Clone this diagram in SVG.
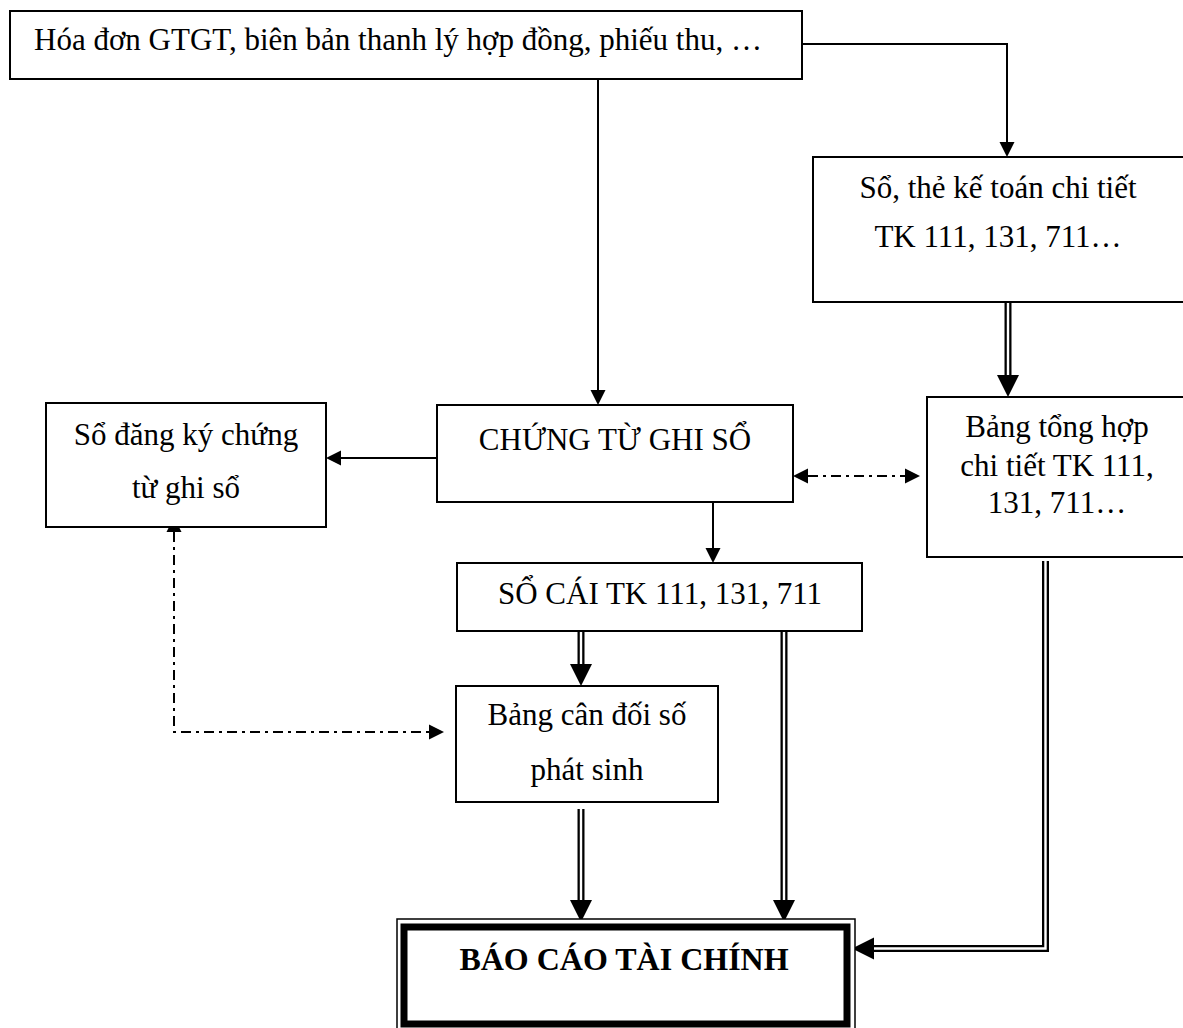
<svg xmlns="http://www.w3.org/2000/svg" width="1183" height="1028" viewBox="0 0 1183 1028">
  <style>
    .box { fill: #fff; stroke: #000; stroke-width: 2; }
    .lbl { font-family: "Liberation Serif", "Times New Roman", serif; font-size: 31px; fill: #000; text-anchor: middle; }
    .bold { font-weight: bold; font-size: 32px; }
    .ln { fill: none; stroke: #000; stroke-width: 2; }
    .dd { fill: none; stroke: #000; stroke-width: 2; stroke-dasharray: 10 5 3 5; }
    .dbl-out { fill: none; stroke: #000; stroke-width: 7; stroke-linejoin: miter; }
    .dbl-in { fill: none; stroke: #fff; stroke-width: 2.4; stroke-linejoin: miter; }
  </style>
  <defs>
    <!-- path ends at the arrow base; the head extends forward from there -->
    <marker id="arr" markerUnits="userSpaceOnUse" markerWidth="16" markerHeight="16" refX="0" refY="7.5" orient="auto-start-reverse" overflow="visible">
      <path d="M0,0 L15,7.5 L0,15 z" fill="#000"/>
    </marker>
    <marker id="arrBig" markerUnits="userSpaceOnUse" markerWidth="23" markerHeight="23" refX="0" refY="11" orient="auto" overflow="visible">
      <path d="M0,0 L22,11 L0,22 z" fill="#000"/>
    </marker>
  </defs>

  <rect width="1183" height="1028" fill="#fff"/>

  <g id="connectors">
    <!-- source documents to journal voucher -->
    <path class="ln" d="M598,79 V390" marker-end="url(#arr)"/>
    <!-- source documents to detail ledgers -->
    <path class="ln" d="M802,44 H1007 V142" marker-end="url(#arr)"/>
    <!-- journal voucher to voucher register -->
    <path class="ln" d="M437,458 H341" marker-end="url(#arr)"/>
    <!-- voucher vs detail summary cross-check -->
    <path class="dd" d="M808,476 H905" marker-start="url(#arr)" marker-end="url(#arr)"/>
    <!-- journal voucher to general ledger -->
    <path class="ln" d="M713,503 V548" marker-end="url(#arr)"/>
    <!-- register vs trial balance cross-check -->
    <path class="dd" d="M174,532 V732 H429" marker-start="url(#arr)" marker-end="url(#arr)"/>

    <!-- double-line flows -->
    <path class="dbl-out" d="M1008,303 V375" marker-end="url(#arrBig)"/>
    <path class="dbl-in" d="M1008,303 V375"/>

    <path class="dbl-out" d="M581,632 V664" marker-end="url(#arrBig)"/>
    <path class="dbl-in" d="M581,632 V664"/>

    <path class="dbl-out" d="M784,632 V900" marker-end="url(#arrBig)"/>
    <path class="dbl-in" d="M784,632 V900"/>

    <path class="dbl-out" d="M581,809 V900" marker-end="url(#arrBig)"/>
    <path class="dbl-in" d="M581,809 V900"/>

    <path class="dbl-out" d="M1045.5,561 V948.5 H874" marker-end="url(#arrBig)"/>
    <path class="dbl-in" d="M1045.5,561 V948.5 H874"/>
  </g>

  <g id="n-source">
    <rect class="box" x="10" y="11" width="792" height="68"/>
    <text class="lbl" x="398" y="50">Hóa đơn GTGT, biên bản thanh lý hợp đồng, phiếu thu, …</text>
  </g>

  <g id="n-detail-ledger">
    <rect class="box" x="813" y="157" width="375" height="145"/>
    <text class="lbl" x="998" y="198">Sổ, thẻ kế toán chi tiết</text>
    <text class="lbl" x="998" y="247">TK 111, 131, 711…</text>
  </g>

  <g id="n-register">
    <rect class="box" x="46" y="403" width="280" height="124"/>
    <text class="lbl" x="186" y="445">Sổ đăng ký chứng</text>
    <text class="lbl" x="186" y="498">từ ghi sổ</text>
  </g>

  <g id="n-voucher">
    <rect class="box" x="437" y="405" width="356" height="97"/>
    <text class="lbl" x="615" y="450">CHỨNG TỪ GHI SỔ</text>
  </g>

  <g id="n-detail-summary">
    <rect class="box" x="927" y="397" width="262" height="160"/>
    <text class="lbl" x="1057" y="437">Bảng tổng hợp</text>
    <text class="lbl" x="1057" y="476">chi tiết TK 111,</text>
    <text class="lbl" x="1057" y="513">131, 711…</text>
  </g>

  <g id="n-general-ledger">
    <rect class="box" x="457" y="563" width="405" height="68"/>
    <text class="lbl" x="660" y="604">SỔ CÁI TK 111, 131, 711</text>
  </g>

  <g id="n-trial-balance">
    <rect class="box" x="456" y="686" width="262" height="116"/>
    <text class="lbl" x="587" y="725">Bảng cân đối số</text>
    <text class="lbl" x="587" y="780">phát sinh</text>
  </g>

  <g id="n-report">
    <rect x="397" y="919" width="458" height="130" fill="#fff" stroke="#000" stroke-width="1.5"/>
    <rect x="404" y="927" width="443" height="97" fill="none" stroke="#000" stroke-width="7"/>
    <text class="lbl bold" x="624" y="970">BÁO CÁO TÀI CHÍNH</text>
  </g>
</svg>
